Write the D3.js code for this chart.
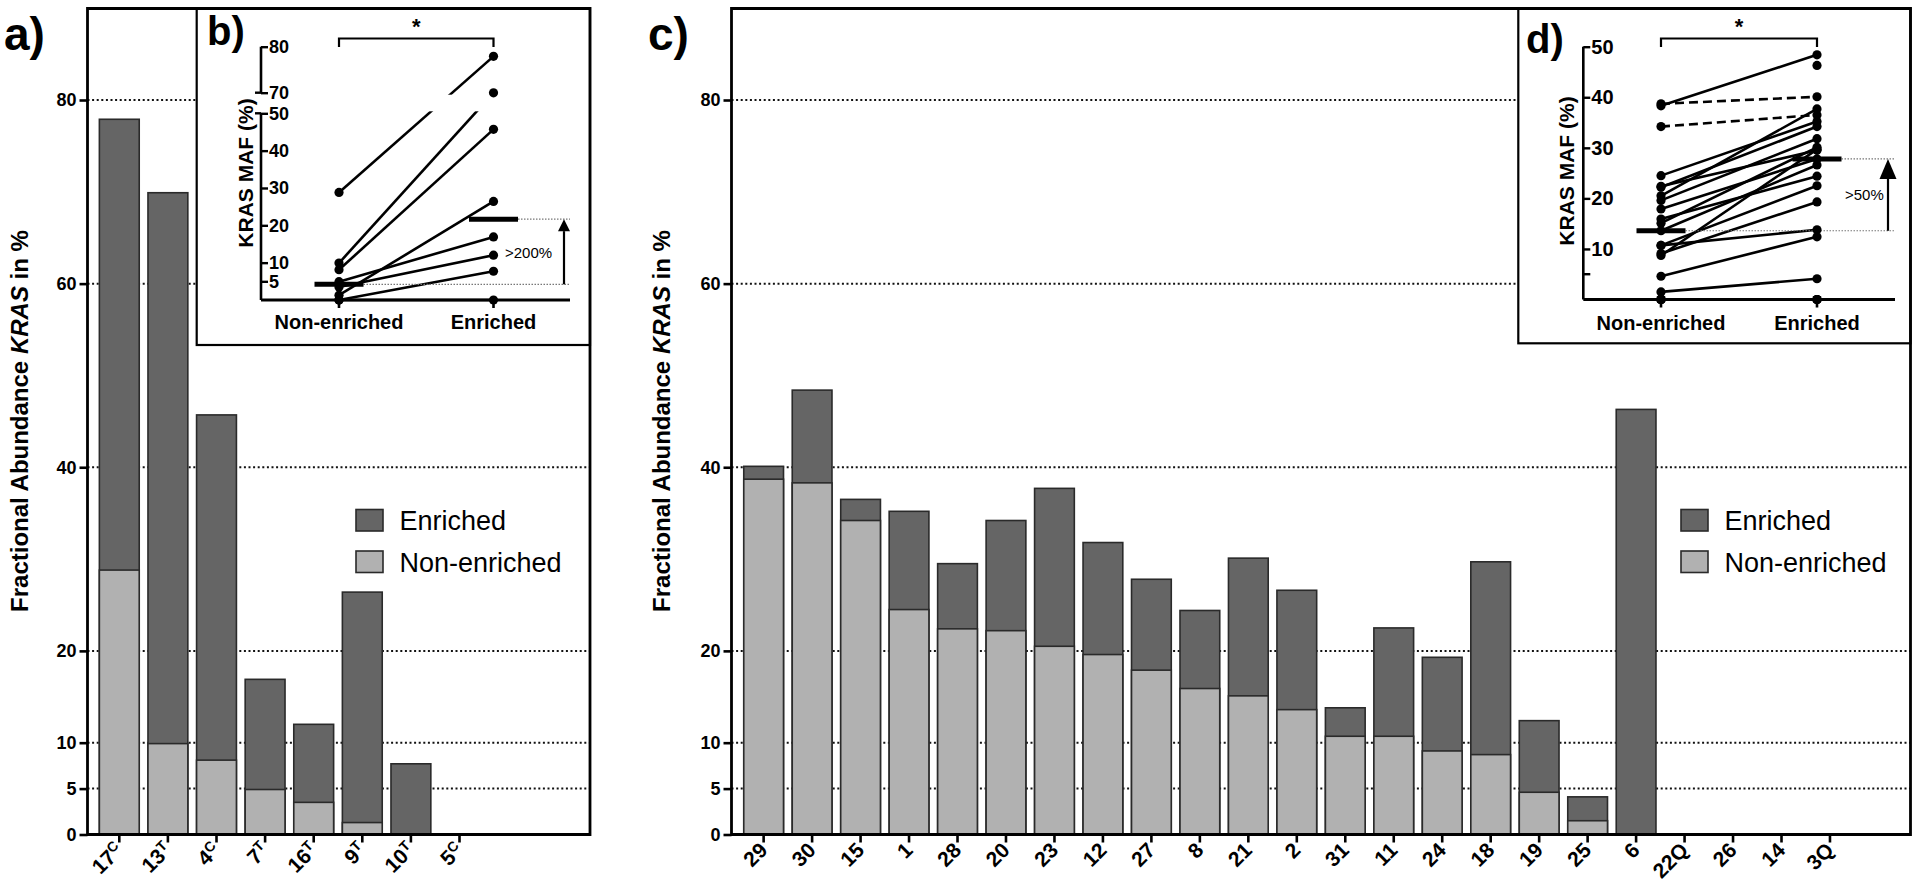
<!DOCTYPE html>
<html><head><meta charset="utf-8">
<script src="https://cdn.jsdelivr.net/npm/d3@7"></script>
<style>body{margin:0;background:#fff}svg{display:block}</style>
</head><body>
<svg id="chart" width="1920" height="893"></svg>
<script>
// ---------- data ----------
const catsA = ["17","13","4","7","16","9","10","5"];
const supA  = ["C","T","C","T","T","T","T","C"];
const nonEnrichedA = [28.8, 9.9, 8.1, 4.9, 3.5, 1.3, 0, 0];
const enrichedA    = [77.9, 69.9, 45.7, 16.9, 12.0, 26.4, 7.7, 0];

const catsC = ["29","30","15","1","28","20","23","12","27","8","21","2","31","11","24","18","19","25","6","22Q","26","14","3Q"];
const supC  = catsC.map(() => "");
const nonEnrichedC = [38.7, 38.3, 34.2, 24.5, 22.4, 22.2, 20.5, 19.6, 17.9, 15.9, 15.1, 13.6, 10.7, 10.7, 9.1, 8.7, 4.6, 1.5, 0, 0, 0, 0, 0];
const enrichedC    = [40.1, 48.4, 36.5, 35.2, 29.5, 34.2, 37.7, 31.8, 27.8, 24.4, 30.1, 26.6, 13.8, 22.5, 19.3, 29.7, 12.4, 4.1, 46.3, 0, 0, 0, 0];
const lineStyleD   = ["dash","solid","dash","solid","solid","solid","solid","solid","solid","solid","solid","solid","solid","solid","solid","solid","solid","solid","none","dash","dash","dash","dash"];
const lineStyleB   = ["solid","solid","solid","solid","solid","solid","solid","solid"];

const yTicksMain = [0, 5, 10, 20, 40, 60, 80];
const gridMain   = [5, 10, 20, 40, 60, 80];
const yTicksB      = [5, 10, 20, 30, 40, 50];
const yTicksBUpper = [70, 80];
const yTicksD      = [10, 20, 30, 40, 50];
const minorTicksD  = [5];
const groups = ["Non-enriched", "Enriched"];
const legendItems = ["Enriched", "Non-enriched"];

// ---------- style ----------
const DARK = "#656565", LIGHT = "#b1b1b1", EDGE = "#2a2a2a";
const FONT = "'Liberation Sans', Arial, Helvetica, sans-serif";
const svg = d3.select("#chart").attr("font-family", FONT);

// ---------- bar panels ----------
function barPanel(cfg) {
  const g = svg.append("g");
  const y = d3.scaleLinear().domain([0, 80]).range([cfg.y0, cfg.y80]);
  const x = d3.scaleBand().domain(d3.range(cfg.cats.length))
    .range([cfg.bandStart, cfg.bandStart + cfg.cats.length * cfg.step])
    .paddingInner(0.18).paddingOuter(0.09);

  g.selectAll("line.grid").data(gridMain).join("line")
    .attr("x1", cfg.axisX).attr("x2", cfg.right)
    .attr("y1", d => y(d)).attr("y2", d => y(d))
    .attr("stroke", "#111").attr("stroke-width", 2).attr("stroke-dasharray", "2,2.6");

  const idx = d3.range(cfg.cats.length);
  g.selectAll("rect.en").data(idx.filter(i => cfg.en[i] > 0)).join("rect")
    .attr("x", i => x(i)).attr("width", x.bandwidth())
    .attr("y", i => y(cfg.en[i])).attr("height", i => y(0) - y(cfg.en[i]))
    .attr("fill", DARK).attr("stroke", EDGE).attr("stroke-width", 1.6);
  g.selectAll("rect.ne").data(idx.filter(i => cfg.ne[i] > 0)).join("rect")
    .attr("x", i => x(i)).attr("width", x.bandwidth())
    .attr("y", i => y(cfg.ne[i])).attr("height", i => y(0) - y(cfg.ne[i]))
    .attr("fill", LIGHT).attr("stroke", EDGE).attr("stroke-width", 1.6);

  const ya = g.append("g").attr("transform", `translate(${cfg.axisX},0)`)
    .call(d3.axisLeft(y).tickValues(yTicksMain).tickSize(8).tickPadding(3));
  ya.select(".domain").remove();
  ya.selectAll(".tick line").attr("stroke", "#000").attr("stroke-width", 2.6);
  ya.selectAll(".tick text").attr("font-size", 18).attr("font-weight", "bold")
    .attr("font-family", FONT).attr("fill", "#000");

  const xa = g.append("g").attr("transform", `translate(0,${cfg.y0})`)
    .call(d3.axisBottom(x).tickSize(8).tickFormat(""));
  xa.select(".domain").remove();
  xa.selectAll(".tick line").attr("stroke", "#000").attr("stroke-width", 2.6);

  const lab = g.selectAll("text.xl").data(idx).join("text")
    .attr("transform", i => `translate(${x(i) + x.bandwidth() / 2 + 5},${cfg.y0 + 17}) rotate(-45)`)
    .attr("text-anchor", "end").attr("font-size", 21).attr("font-weight", "bold");
  lab.append("tspan").text(i => cfg.cats[i]);
  lab.filter(i => cfg.sups[i]).append("tspan").attr("dy", -7).attr("font-size", 14).text(i => cfg.sups[i]);

  const t = g.append("text").attr("transform", `translate(${cfg.titleX},421) rotate(-90)`)
    .attr("text-anchor", "middle").attr("font-size", 24).attr("font-weight", "bold");
  t.append("tspan").text("Fractional Abundance ");
  t.append("tspan").attr("font-style", "italic").text("KRAS");
  t.append("tspan").text(" in %");

  const lg = g.selectAll("g.lg").data(legendItems).join("g")
    .attr("transform", (d, i) => `translate(${cfg.legendX},${530 + i * 41.5})`);
  lg.append("rect").attr("x", 0).attr("y", -20.5).attr("width", 27).attr("height", 21.5)
    .attr("fill", d => d === "Enriched" ? DARK : LIGHT).attr("stroke", EDGE).attr("stroke-width", 1.6);
  lg.append("text").attr("x", 43.5).attr("y", 0).attr("font-size", 27).text(d => d);

  g.append("text").attr("x", cfg.letterX).attr("y", 50).attr("font-size", 46).attr("font-weight", "bold").text(cfg.letter);
  return g;
}

function frame(axisX, right, top, y0) {
  svg.append("path")
    .attr("d", `M${axisX},${top}H${right}V${y0}H${axisX}Z`)
    .attr("fill", "none").attr("stroke", "#000").attr("stroke-width", 2.8);
}

barPanel({cats: catsA, sups: supA, ne: nonEnrichedA, en: enrichedA, y0: 834.5, y80: 100,
  axisX: 87.5, right: 590, bandStart: 95, step: 48.6, titleX: 28, legendX: 356, letterX: 4, letter: "a)"});
barPanel({cats: catsC, sups: supC, ne: nonEnrichedC, en: enrichedC, y0: 834.5, y80: 100,
  axisX: 731.5, right: 1910.5, bandStart: 739.4, step: 48.47, titleX: 670, legendX: 1681, letterX: 648, letter: "c)"});

// ---------- insets ----------
function inset(cfg) {
  const g = svg.append("g");
  g.append("rect").attr("x", cfg.boxX).attr("y", 8.5).attr("width", cfg.right - cfg.boxX).attr("height", cfg.boxB - 8.5)
    .attr("fill", "#fff").attr("stroke", "#000").attr("stroke-width", 2.2);
  const y = cfg.y;
  const x = d3.scalePoint().domain(groups).range(cfg.xr);
  const idx = d3.range(cfg.ne.length);

  g.selectAll("line.pair").data(idx.filter(i => cfg.styles[i] !== "none")).join("line")
    .attr("x1", x("Non-enriched")).attr("y1", i => y(cfg.ne[i]))
    .attr("x2", x("Enriched")).attr("y2", i => y(cfg.en[i]))
    .attr("stroke", "#000").attr("stroke-width", 2.6)
    .attr("stroke-dasharray", i => cfg.styles[i] === "dash" ? "9,5" : null);

  if (cfg.gap) {
    g.append("rect").attr("x", cfg.axisX + 8).attr("width", cfg.xr[1] + 40 - cfg.axisX)
      .attr("y", y(cfg.gap[1]) + 2).attr("height", y(cfg.gap[0]) - y(cfg.gap[1]) - 4).attr("fill", "#fff");
  }

  cfg.segments.forEach(([a, b]) => {
    g.append("line").attr("x1", cfg.axisX).attr("x2", cfg.axisX).attr("y1", y(a)).attr("y2", y(b))
      .attr("stroke", "#000").attr("stroke-width", 2.6);
  });
  cfg.tickSets.forEach(tv => {
    const a = g.append("g").attr("transform", `translate(${cfg.axisX},0)`)
      .call(d3.axisRight(y).tickValues(tv).tickSize(7).tickPadding(1));
    a.select(".domain").remove();
    a.selectAll(".tick line").attr("stroke", "#000").attr("stroke-width", 2.4);
    a.selectAll(".tick text").attr("font-size", cfg.tickFont).attr("font-weight", "bold").attr("font-family", FONT).attr("fill", "#000");
  });
  if (cfg.minor) {
    g.selectAll("line.minor").data(cfg.minor).join("line")
      .attr("x1", cfg.axisX).attr("x2", cfg.axisX + 7).attr("y1", d => y(d)).attr("y2", d => y(d))
      .attr("stroke", "#000").attr("stroke-width", 2.4);
  }
  if (cfg.stubs) {
    g.selectAll("line.stub").data(cfg.stubs).join("line")
      .attr("x1", cfg.axisX - 6).attr("x2", cfg.axisX).attr("y1", d => y(d)).attr("y2", d => y(d))
      .attr("stroke", "#000").attr("stroke-width", 2.4);
  }
  g.append("line").attr("x1", cfg.axisX).attr("x2", cfg.baseEnd).attr("y1", y(0)).attr("y2", y(0))
    .attr("stroke", "#000").attr("stroke-width", 2.8);
  g.selectAll("line.ct").data(groups).join("line")
    .attr("x1", d => x(d)).attr("x2", d => x(d)).attr("y1", y(0)).attr("y2", y(0) + 8)
    .attr("stroke", "#000").attr("stroke-width", 2.6);

  const medNE = d3.median(cfg.ne), medE = d3.median(cfg.en);
  [["Non-enriched", medNE], ["Enriched", medE]].forEach(([k, m]) => {
    g.append("line").attr("x1", x(k) + 24.5).attr("x2", cfg.baseEnd).attr("y1", y(m)).attr("y2", y(m))
      .attr("stroke", "#777").attr("stroke-width", 1.2).attr("stroke-dasharray", "1.5,1.5");
    g.append("line").attr("x1", x(k) - 24.5).attr("x2", x(k) + 24.5).attr("y1", y(m)).attr("y2", y(m))
      .attr("stroke", "#000").attr("stroke-width", 5);
  });
  const ax = cfg.arrowX;
  g.append("line").attr("x1", ax).attr("x2", ax).attr("y1", y(medNE)).attr("y2", y(medE) + cfg.headL)
    .attr("stroke", "#000").attr("stroke-width", 2.2);
  g.append("path").attr("d", `M${ax},${y(medE)}L${ax - cfg.headW / 2},${y(medE) + cfg.headL}L${ax + cfg.headW / 2},${y(medE) + cfg.headL}Z`)
    .attr("fill", "#000");
  g.append("text").attr("x", cfg.pctX).attr("y", cfg.pctY).attr("font-size", 15).text(cfg.pct);

  idx.forEach(i => {
    g.append("circle").attr("cx", x("Non-enriched")).attr("cy", y(cfg.ne[i])).attr("r", 4.6).attr("fill", "#000");
    g.append("circle").attr("cx", x("Enriched")).attr("cy", y(cfg.en[i])).attr("r", 4.6).attr("fill", "#000");
  });

  g.append("path").attr("d", `M${cfg.xr[0]},47V38.5H${cfg.xr[1]}V47`).attr("fill", "none").attr("stroke", "#000").attr("stroke-width", 2.2);
  g.append("text").attr("x", (cfg.xr[0] + cfg.xr[1]) / 2).attr("y", 34).attr("text-anchor", "middle")
    .attr("font-size", 22).attr("font-weight", "bold").text("*");

  g.selectAll("text.grp").data(groups).join("text")
    .attr("x", d => x(d)).attr("y", cfg.grpY).attr("text-anchor", "middle")
    .attr("font-size", 20).attr("font-weight", "bold").text(d => d);
  g.append("text").attr("transform", `translate(${cfg.titleX},${cfg.titleY}) rotate(-90)`)
    .attr("text-anchor", "middle").attr("font-size", 21).attr("font-weight", "bold").text("KRAS MAF (%)");
  g.append("text").attr("x", cfg.letterX).attr("y", cfg.letterY).attr("font-size", 40).attr("font-weight", "bold").text(cfg.letter);
}

inset({
  boxX: 196.7, boxB: 345, right: 590,
  y: d3.scaleLinear().domain([0, 50, 70, 80]).range([300, 113.3, 92.7, 46.7]),
  xr: [339, 493.5], ne: nonEnrichedA, en: enrichedA, styles: lineStyleB,
  gap: [50, 70], axisX: 261, segments: [[0, 50], [70, 80]], tickSets: [yTicksB, yTicksBUpper],
  stubs: [50, 70], tickFont: 18, baseEnd: 570,
  arrowX: 564, headL: 12, headW: 12, pct: ">200%", pctX: 505, pctY: 258,
  grpY: 329, titleX: 253, titleY: 173, letter: "b)", letterX: 207, letterY: 45
});
inset({
  boxX: 1518.3, boxB: 343.3, right: 1910.5,
  y: d3.scaleLinear().domain([0, 50]).range([299.5, 46.7]),
  xr: [1661, 1817], ne: nonEnrichedC, en: enrichedC, styles: lineStyleD,
  gap: null, axisX: 1583.3, segments: [[0, 50]], tickSets: [yTicksD], minor: minorTicksD,
  tickFont: 20, baseEnd: 1895,
  arrowX: 1888, headL: 20, headW: 17, pct: ">50%", pctX: 1845, pctY: 200,
  grpY: 330, titleX: 1574, titleY: 171, letter: "d)", letterX: 1526, letterY: 53
});

frame(87.5, 590, 8.5, 834.5);
frame(731.5, 1910.5, 8.5, 834.5);
</script>
</body></html>
